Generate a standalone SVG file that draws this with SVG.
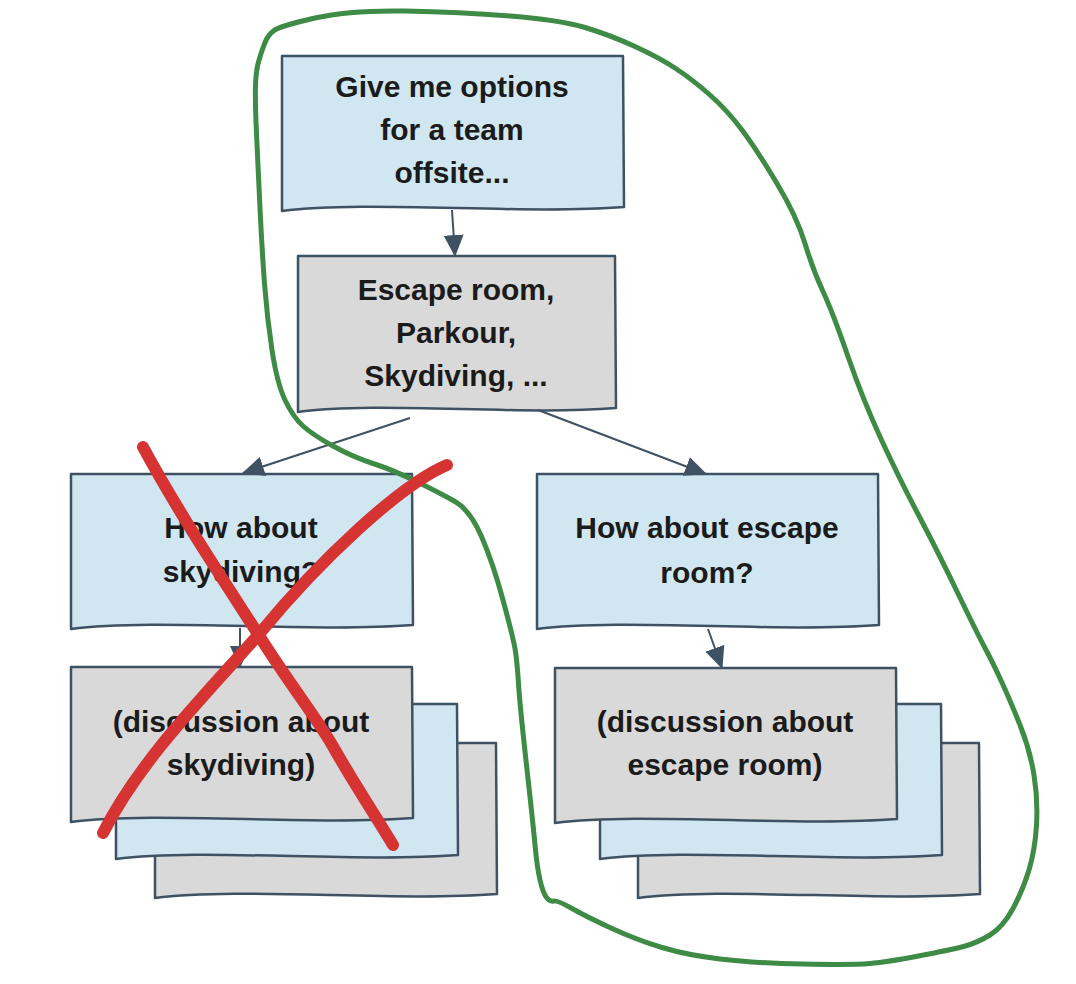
<svg xmlns="http://www.w3.org/2000/svg" xmlns:xlink="http://www.w3.org/1999/xlink" width="1076" height="984" viewBox="0 0 1076 984">
<style>
.blue{fill:#d0e7f2;stroke:#3e5264;stroke-width:2.5;stroke-linejoin:round}
.gray{fill:#d9d9d9;stroke:#3e5264;stroke-width:2.5;stroke-linejoin:round}
.t{font-family:"Liberation Sans",Arial,sans-serif;font-size:30px;font-weight:bold;fill:#1b1b1b;text-anchor:middle}
.conn{stroke:#3e5264;stroke-width:2;fill:none}
.green{fill:none;stroke:#3d8b44;stroke-width:5;stroke-linejoin:round;stroke-linecap:round}
.red{fill:none;stroke:#d63333;stroke-width:12;stroke-linejoin:round;stroke-linecap:round}
</style>
<defs>
<path id="b341" d="M0 0 L341 0 L342 151 C 239 159, 85 144, 0 155 Z"/>
<path id="b317" d="M0 0 L317 0 L318 152 C 222 160, 79 145, 0 156 Z"/>
<marker id="ah" viewBox="0 0 22 20" refX="21" refY="10" markerWidth="22" markerHeight="20" markerUnits="userSpaceOnUse" orient="auto">
<path d="M0 0 L22 10 L0 20 Z" fill="#3e5264"/>
</marker>
</defs>
<rect width="1076" height="984" fill="#ffffff"/>

<g id="node-prompt">
<use xlink:href="#b341" class="blue" transform="translate(282,56)"/>
<text class="t" x="452" y="97">Give me options</text>
<text class="t" x="452" y="140">for a team</text>
<text class="t" x="452" y="183">offsite...</text>
</g>

<g id="node-options">
<use xlink:href="#b317" class="gray" transform="translate(298,256)"/>
<text class="t" x="456" y="300">Escape room,</text>
<text class="t" x="456" y="343">Parkour,</text>
<text class="t" x="456" y="386">Skydiving, ...</text>
</g>

<g id="node-skydiving">
<use xlink:href="#b341" class="blue" transform="translate(71,474)"/>
<text class="t" x="241" y="538">How about</text>
<text class="t" x="241" y="582">skydiving?</text>
</g>

<g id="node-skydiving-discussion">
<use xlink:href="#b341" class="gray" transform="translate(155,743)"/>
<use xlink:href="#b341" class="blue" transform="translate(116,704)"/>
<use xlink:href="#b341" class="gray" transform="translate(71,667)"/>
<text class="t" x="241" y="732">(discussion about</text>
<text class="t" x="241" y="775">skydiving)</text>
</g>

<g id="node-escape">
<use xlink:href="#b341" class="blue" transform="translate(537,474)"/>
<text class="t" x="707" y="538">How about escape</text>
<text class="t" x="707" y="583">room?</text>
</g>

<g id="node-escape-discussion">
<use xlink:href="#b341" class="gray" transform="translate(638,743)"/>
<use xlink:href="#b341" class="blue" transform="translate(600,704)"/>
<use xlink:href="#b341" class="gray" transform="translate(555,668)"/>
<text class="t" x="725" y="732">(discussion about</text>
<text class="t" x="725" y="775">escape room)</text>
</g>

<g id="connectors">
<path class="conn" marker-end="url(#ah)" d="M452 210 L455 256"/>
<path class="conn" marker-end="url(#ah)" d="M410 418 L243 473"/>
<path class="conn" marker-end="url(#ah)" d="M538 410 L706 474"/>
<path class="conn" marker-end="url(#ah)" d="M240 628 L240 667"/>
<path class="conn" marker-end="url(#ah)" d="M708 629 L722 668"/>
</g>

<g id="annotations">
<path class="green" d="M265 42.5 Q268 35 274 30.5 Q280 26 315 18 Q350 10 405 11 Q460 12 510 16 Q560 20 585 27.5 Q610 35 635 46.5 Q660 58 676.5 69 Q693 80 710 95 Q727 110 742 130 Q757 150 777 183.5 Q797 217 805 243.5 Q813 270 823 291.5 Q833 313 848 356.5 Q863 400 881.5 440 Q900 480 918.5 515 Q937 550 957 591.5 Q977 633 985 648 Q993 663 1001.5 681.5 Q1010 700 1020 725 Q1030 750 1034 775 Q1038 800 1036.5 825 Q1035 850 1029 870 Q1023 890 1013 908.5 Q1003 927 990 935 Q977 943 963.5 946.5 Q950 950 918.5 956 Q887 962 870 963.5 Q853 965 803 964 Q753 963 720 959 Q687 955 662 947.5 Q637 940 612 928.5 Q587 917 572 908.5 Q557 900 553.5 901 Q550 902 546.5 897.5 Q543 893 540 880 Q537 867 535 845 Q533 823 526.5 765 Q520 707 518.5 683.5 Q517 660 515 648.5 Q513 637 503 600 Q493 563 481.5 536.5 Q470 510 455 501.5 Q440 493 416.5 481.5 Q393 470 373 463.5 Q353 457 333 446 Q313 435 303 426 Q293 417 285 400 Q277 383 272 350 Q267 317 264.5 283.5 Q262 250 260 208.5 Q258 167 256.5 133.5 Q255 100 255.5 85 Q256 70 259 60 Q262 50 265 42.5 Z"/>
<path class="red" d="M143 447 C 180 515, 220 575, 260 637 C 290 685, 320 722, 335 750 C 355 785, 375 815, 393 845"/>
<path class="red" d="M447 465 C 400 485, 320 560, 260 633 C 205 695, 140 760, 103 833"/>
</g>
</svg>
